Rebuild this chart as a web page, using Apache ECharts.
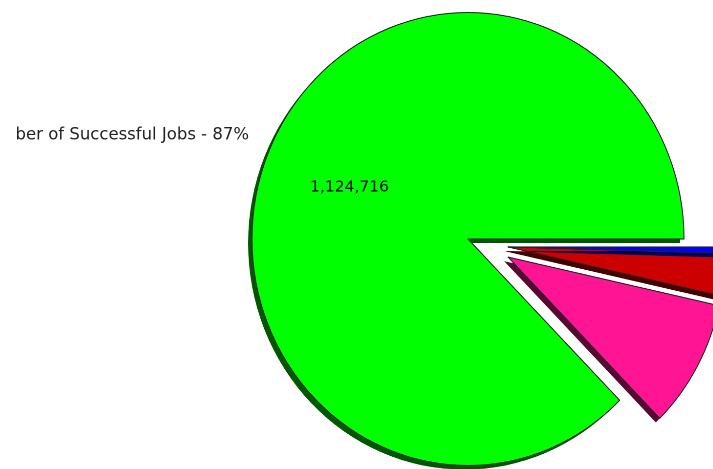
<!DOCTYPE html>
<html>
<head>
<meta charset="utf-8">
<script src="https://cdn.jsdelivr.net/npm/echarts@6/dist/echarts.min.js"></script>
<style>
html,body{margin:0;padding:0;background:#fff;overflow:hidden;}
#wrap{position:relative;width:713px;height:469px;overflow:hidden;background:#fff;}
#pie{position:absolute;left:0;top:0;width:760px;height:480px;transform-origin:468px 239px;transform:scale(0.9774,1.0249);}
#labels{position:absolute;left:16px;top:0;width:697px;height:469px;overflow:hidden;}
</style>
</head>
<body>
<div id="wrap"><div id="pie"></div><div id="labels"></div></div>
<script>
// ---- Data ----
var categories = ['Number of Successful Jobs', 'Number of Failed Jobs', 'Number of Killed Jobs', 'Number of Other Jobs'];
var values = [1124716, 118000, 38600, 5700];
var colors = ['#00ff00', '#ff1493', '#cc0000', '#0000ff'];
var shadowColors = ['#005900', '#590733', '#470000', '#000059'];

// ---- Layout (not data) ----
var CENTER = [468, 239];
var R = 221;
// explode shift per slice, pre-scale pixels
var SHIFT = [[0, 0], [41, 17.6], [41, 7.8], [41, 7.8]];
var LABEL_LEFT = 16;

var clear = 'rgba(0,0,0,0)';

function sliceSeries(k, mode) {
  return {
    type: 'pie',
    center: [CENTER[0] + SHIFT[k][0], CENTER[1] + SHIFT[k][1]],
    radius: [0, R],
    startAngle: 0,
    clockwise: false,
    silent: true,
    animation: false,
    label: { show: false },
    labelLine: { show: false },
    emphasis: { disabled: true },
    data: categories.map(function (name, i) {
      var st;
      if (i !== k) {
        st = { color: clear, borderWidth: 0, shadowColor: clear, shadowBlur: 0 };
      } else if (mode === 'fill') {
        st = { color: colors[i], borderWidth: 0, shadowColor: shadowColors[i],
               shadowBlur: 0, shadowOffsetX: -4, shadowOffsetY: 4 };
      } else {
        st = { color: clear, borderColor: '#222', borderWidth: 1, shadowColor: clear };
      }
      return { name: name, value: values[i], itemStyle: st };
    })
  };
}

var pieSeries = [];
for (var k = 0; k < categories.length; k++) pieSeries.push(sliceSeries(k, 'fill'));
for (var k2 = 0; k2 < categories.length; k2++) pieSeries.push(sliceSeries(k2, 'border'));

var pieChart = echarts.init(document.getElementById('pie'), null, { renderer: 'canvas', devicePixelRatio: 2 });
pieChart.setOption({ animation: false, series: pieSeries });

// ---- Labels (unscaled) ----
var labelChart = echarts.init(document.getElementById('labels'), null, { renderer: 'canvas', devicePixelRatio: 2 });
function labelData(showIdx) {
  return categories.map(function (name, i) {
    return { name: name, value: values[i], label: { show: i === showIdx } };
  });
}
labelChart.setOption({
  animation: false,
  series: [
    {
      type: 'pie',
      center: [CENTER[0] - LABEL_LEFT, CENTER[1]],
      radius: [0, R],
      startAngle: 0,
      clockwise: false,
      silent: true,
      avoidLabelOverlap: false,
      itemStyle: { color: clear, borderWidth: 0 },
      label: {
        position: 'outside',
        fontFamily: 'DejaVu Sans',
        fontSize: 16.5,
        color: '#222',
        distanceToLabelLine: -29.1,
        formatter: function (p) {
          return p.name + ' - ' + Math.round(p.percent) + '%';
        }
      },
      labelLine: { show: false, length: 47.9, length2: 0 },
      emphasis: { disabled: true },
      data: labelData(0)
    },
    {
      type: 'pie',
      center: [469.5 - LABEL_LEFT, 237.5],
      radius: [33, R],
      startAngle: 0,
      clockwise: false,
      silent: true,
      avoidLabelOverlap: false,
      itemStyle: { color: clear, borderWidth: 0 },
      label: {
        position: 'inside',
        fontFamily: 'DejaVu Sans',
        fontSize: 15.5,
        color: '#000',
        formatter: function (p) {
          return p.value.toLocaleString('en-US');
        }
      },
      labelLine: { show: false },
      emphasis: { disabled: true },
      data: labelData(0)
    }
  ]
});
</script>
</body>
</html>
